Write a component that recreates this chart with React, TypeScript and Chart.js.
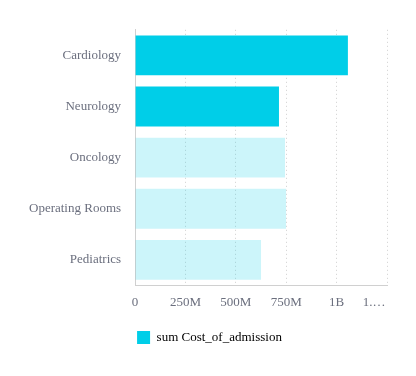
import React, { useEffect, useRef } from "react";
import { Chart, registerables } from "chart.js";

Chart.register(...registerables);

const categories = ["Cardiology", "Neurology", "Oncology", "Operating Rooms", "Pediatrics"];
const costValues = [1056000000, 714000000, 744000000, 749000000, 625000000];
const highlighted = [true, true, false, false, false];
const tickValues = [0, 250000000, 500000000, 750000000, 1000000000, 1250000000];
const tickLabels = ["0", "250M", "500M", "750M", "1B", "1.\u2026        "];
const seriesLabel = "sum Cost_of_admission";

const STRONG = "rgb(0,206,232)";
const WEAK = "rgba(0,206,232,0.2)";
const TEXT = "#6b6f7e";
const FONT = "'Liberation Serif', 'Times New Roman', serif";

export default function App() {
  const ref = useRef<HTMLCanvasElement | null>(null);
  useEffect(() => {
    if (!ref.current) return;
    const chart = new Chart(ref.current, {
      type: "bar",
      data: {
        labels: categories,
        datasets: [
          {
            label: seriesLabel,
            data: costValues,
            backgroundColor: highlighted.map((h) => (h ? STRONG : WEAK)),
            borderWidth: 0,
            categoryPercentage: 1,
            barPercentage: 0.78,
          },
        ],
      },
      options: {
        indexAxis: "y",
        animation: false,
        responsive: true,
        maintainAspectRatio: false,
        layout: { padding: { top: 18, right: 21, left: 7, bottom: 14 } },
        scales: {
          x: {
            min: 0,
            max: 1250000000,
            afterBuildTicks: (axis: any) => {
              axis.ticks = tickValues.map((v) => ({ value: v }));
            },
            afterFit: (axis: any) => {
              axis.height += 10;
              axis.paddingRight = 0;
              axis.paddingLeft = 0;
            },
            ticks: {
              color: TEXT,
              font: { family: FONT, size: 13 },
              padding: 9,
              maxRotation: 0,
              autoSkip: false,
              callback: (_v: any, i: number) => tickLabels[i],
            },
            grid: {
              color: "#cfcfcf",
              drawTicks: false,
            },
            border: { display: true, color: "#d0d0d0", dash: [1, 3] },
          },
          y: {
            ticks: {
              color: TEXT,
              font: { family: FONT, size: 13 },
              padding: 14,
            },
            grid: { display: false, drawTicks: false },
            border: { display: true, color: "#d0d0d0" },
          },
        },
        plugins: {
          legend: {
            position: "bottom",
            align: "start",
            fullSize: false,
            labels: {
              color: TEXT,
              font: { family: FONT, size: 13 },
              boxWidth: 13,
              boxHeight: 13,
              padding: 2,
              generateLabels: () => [
                {
                  text: seriesLabel,
                  fillStyle: STRONG,
                  strokeStyle: STRONG,
                  lineWidth: 0,
                  hidden: false,
                  datasetIndex: 0,
                },
              ],
            },
          },
          tooltip: { enabled: false },
        },
      },
    });
    return () => chart.destroy();
  }, []);
  return (
    <div style={{ width: 400, height: 360, position: "relative" }}>
      <canvas ref={ref} />
    </div>
  );
}
